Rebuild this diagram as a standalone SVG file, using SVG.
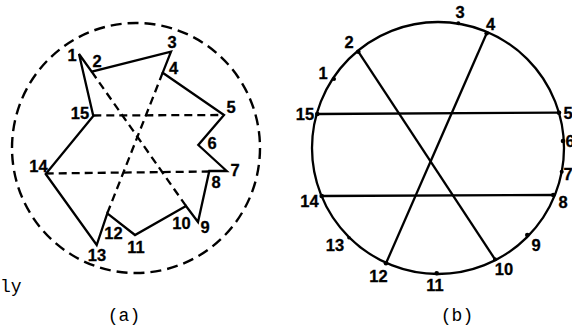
<svg xmlns="http://www.w3.org/2000/svg" width="572" height="333" viewBox="0 0 572 333">
<style>
.bg{fill:#fff}
.lbl{font-family:"Liberation Sans",Arial,sans-serif;font-weight:bold;font-size:16.5px;fill:#000;stroke:#000;stroke-width:0.3;text-anchor:middle}
.cap{font-family:"Liberation Mono","Courier New",monospace;font-size:18px;fill:#000}
.solid{fill:none;stroke:#000;stroke-width:2.3;stroke-linejoin:miter}
.dash{fill:none;stroke:#000;stroke-width:2.3;stroke-dasharray:8 5}
.dcirc{fill:none;stroke:#000;stroke-width:2.4;stroke-dasharray:11 6}
.dot{fill:#000}
</style>
<rect class="bg" x="0" y="0" width="572" height="333"/>
<g id="panel-a">
  <ellipse id="a-boundary" class="dcirc" cx="136" cy="148" rx="124" ry="125"/>
  <g id="a-connectors">
    <polygon id="a-polygon" class="solid" points="79,54 91.7,71.7 171,51.7 162.7,72.7 224,115 198.3,145 226.7,171 209.3,171 198,222 186,206 135,235 107.3,213.3 96.7,245 45.7,174 93.3,116"/>
    <line class="dash" x1="91.7" y1="71.7" x2="186" y2="206"/>
    <line class="dash" x1="162.7" y1="72.7" x2="107.3" y2="213.3"/>
    <line class="dash" x1="93.3" y1="115.5" x2="224" y2="115"/>
    <line class="dash" x1="45.7" y1="173.5" x2="209.3" y2="171.5"/>
  </g>
  <g id="a-n1"><text class="lbl" x="72" y="61">1</text></g>
  <g id="a-n2"><text class="lbl" x="97" y="67">2</text></g>
  <g id="a-n3"><text class="lbl" x="172" y="47.5">3</text></g>
  <g id="a-n4"><text class="lbl" x="173.5" y="74">4</text></g>
  <g id="a-n5"><text class="lbl" x="231" y="113">5</text></g>
  <g id="a-n6"><text class="lbl" x="212" y="149">6</text></g>
  <g id="a-n7"><text class="lbl" x="235" y="176">7</text></g>
  <g id="a-n8"><text class="lbl" x="216" y="187.5">8</text></g>
  <g id="a-n9"><text class="lbl" x="205" y="233">9</text></g>
  <g id="a-n10"><text class="lbl" x="181.5" y="228.5">10</text></g>
  <g id="a-n11"><text class="lbl" x="136" y="252.5">11</text></g>
  <g id="a-n12"><text class="lbl" x="113.5" y="239">12</text></g>
  <g id="a-n13"><text class="lbl" x="97" y="261">13</text></g>
  <g id="a-n14"><text class="lbl" x="38.5" y="172">14</text></g>
  <g id="a-n15"><text class="lbl" x="80" y="118.5">15</text></g>
  <text class="cap" x="0" y="292">ly</text>
  <text class="cap" x="124" y="321" text-anchor="middle">(a)</text>
</g>
<g id="panel-b">
  <circle id="b-boundary" cx="438" cy="148" r="126" fill="none" stroke="#000" stroke-width="2.3"/>
  <g id="b-connectors">
    <line class="solid" x1="358.3" y1="51.7" x2="495" y2="259.3"/>
    <line class="solid" x1="486.7" y1="33.3" x2="386" y2="263.3"/>
    <line class="solid" x1="317.3" y1="114" x2="559" y2="112.7"/>
    <line class="solid" x1="321.7" y1="196" x2="553.3" y2="195"/>
  </g>
  <g id="b-n1"><circle class="dot" cx="334" cy="79" r="2"/><text class="lbl" x="323" y="79">1</text></g>
  <g id="b-n2"><circle class="dot" cx="358.3" cy="51.7" r="2.3"/><text class="lbl" x="349" y="48">2</text></g>
  <g id="b-n3"><circle class="dot" cx="458.3" cy="23.3" r="2"/><text class="lbl" x="460" y="17.5">3</text></g>
  <g id="b-n4"><circle class="dot" cx="486.7" cy="33.3" r="2.3"/><text class="lbl" x="490.5" y="30">4</text></g>
  <g id="b-n5"><circle class="dot" cx="559" cy="112.7" r="2.3"/><text class="lbl" x="568" y="118.5">5</text></g>
  <g id="b-n6"><circle class="dot" cx="563" cy="141" r="2.3"/><text class="lbl" x="570" y="146.5">6</text></g>
  <g id="b-n7"><circle class="dot" cx="561.7" cy="171.7" r="2"/><text class="lbl" x="568" y="180">7</text></g>
  <g id="b-n8"><circle class="dot" cx="553.3" cy="195" r="2.3"/><text class="lbl" x="563" y="207.5">8</text></g>
  <g id="b-n9"><circle class="dot" cx="527.3" cy="235" r="2.3"/><text class="lbl" x="536" y="251">9</text></g>
  <g id="b-n10"><circle class="dot" cx="495" cy="259.3" r="2"/><text class="lbl" x="504" y="275">10</text></g>
  <g id="b-n11"><circle class="dot" cx="436.7" cy="273.3" r="2.3"/><text class="lbl" x="435" y="291">11</text></g>
  <g id="b-n12"><circle class="dot" cx="386" cy="263.3" r="2.3"/><text class="lbl" x="378.5" y="282">12</text></g>
  <g id="b-n13"><circle class="dot" cx="349" cy="237.7" r="1.8"/><text class="lbl" x="335" y="251">13</text></g>
  <g id="b-n14"><circle class="dot" cx="321.7" cy="196" r="2.3"/><text class="lbl" x="309.5" y="206.5">14</text></g>
  <g id="b-n15"><circle class="dot" cx="317.3" cy="114" r="2.3"/><text class="lbl" x="305" y="120">15</text></g>
  <text class="cap" x="457" y="321" text-anchor="middle">(b)</text>
</g>
</svg>
